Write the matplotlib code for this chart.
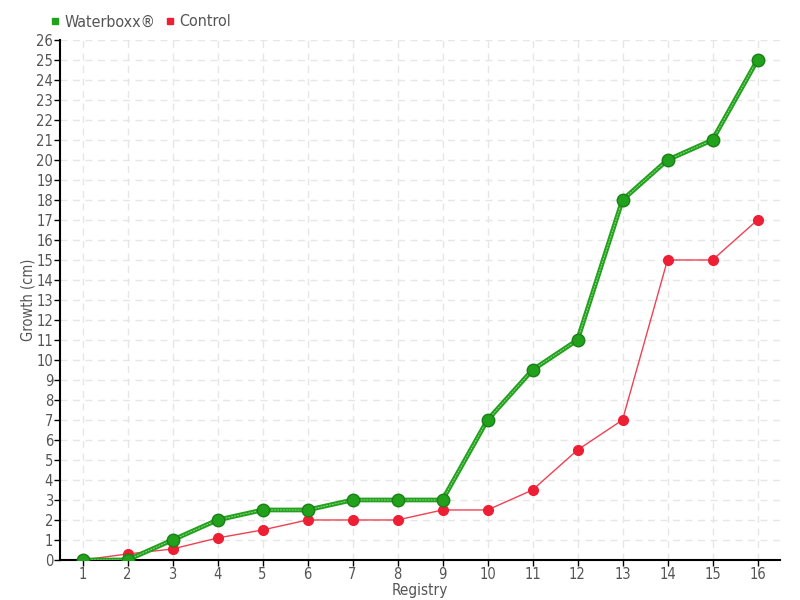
import matplotlib
matplotlib.use("Agg")
import matplotlib.pyplot as plt

registry = list(range(1, 17))
waterboxx = [0, 0, 1, 2, 2.5, 2.5, 3, 3, 3, 7, 9.5, 11, 18, 20, 21, 25]
control = [0, 0.3, 0.55, 1.1, 1.5, 2, 2, 2, 2.5, 2.5, 3.5, 5.5, 7, 15, 15, 17]

plt.rcParams["font.family"] = ["DejaVu Sans"]
plt.rcParams["font.stretch"] = "condensed"

fig = plt.figure(figsize=(8, 6), dpi=100)
ax = fig.add_axes([0.075, 0.0667, 0.9, 0.8667])

green = "#22a11c"
red = "#ee1f35"

ax.plot(registry, control, color=red, lw=1, alpha=0.85, zorder=3)
ax.plot(registry, control, "o", ms=7, color=red, mec=red, zorder=4)

ax.plot(registry, waterboxx, color=green, lw=3.4, solid_capstyle="round", zorder=5)
ax.plot(registry, waterboxx, color="#8fd98a", lw=0.7, ls=(0, (2, 1)), zorder=6)
ax.plot(registry, waterboxx, "o", ms=9, color=green, mec="#1a7f16", mew=1, zorder=7)

ax.set_xlim(0.5, 16.5)
ax.set_ylim(0, 26)
ax.set_xticks(registry)
ax.set_yticks(range(0, 27))
ax.grid(True, color="#e6e6e6", ls=(0, (5, 4)), lw=1)
ax.set_axisbelow(True)
for s in ("top", "right"):
    ax.spines[s].set_visible(False)
for s in ("left", "bottom"):
    ax.spines[s].set_linewidth(1.5)
    ax.spines[s].set_color("black")
ax.tick_params(axis="both", labelsize=10.5, labelcolor="#555555", length=4, width=1, pad=1)

ax.set_xlabel("Registry", fontsize=11, color="#555555", labelpad=0.5)
ax.set_ylabel("Growth (cm)", fontsize=10.5, color="#555555", va="center")
ax.yaxis.set_label_coords(-0.045, 0.5)

ax.plot([], [], "s", ms=5, color=green, label="Waterboxx®")
ax.plot([], [], "s", ms=5, color=red, label="Control")
h, l = ax.get_legend_handles_labels()
fig.legend(h[-2:], l[-2:], loc="upper left", bbox_to_anchor=(0.045, 1.0), ncol=2,
           frameon=False, fontsize=11.5, handlelength=0.6, handletextpad=0.3,
           columnspacing=0.6, labelcolor="#555555")

fig.savefig("out.png", dpi=100)
